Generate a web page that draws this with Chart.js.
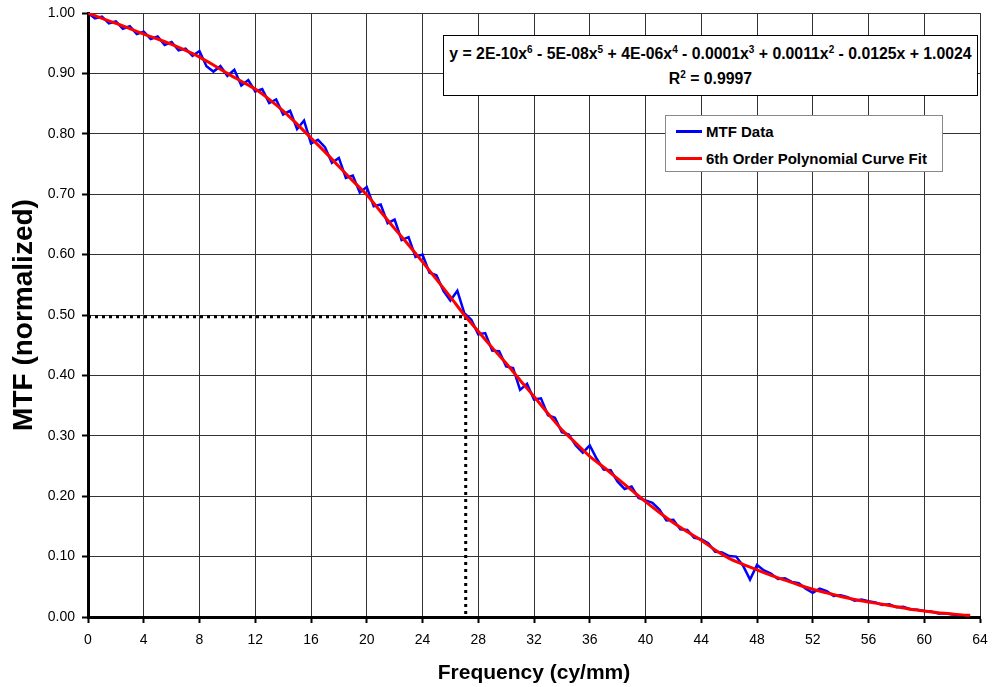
<!DOCTYPE html>
<html>
<head>
<meta charset="utf-8">
<title>MTF</title>
<script src="https://cdn.jsdelivr.net/npm/chart.js@4.4.1/dist/chart.umd.min.js"></script>
<style>
    html, body { margin: 0; padding: 0; background: #fff; }
    #wrap { position: relative; width: 992px; height: 687px; font-family: "Liberation Sans", Arial, sans-serif; }
    .box { position: absolute; background: #fff; box-sizing: border-box; font-weight: bold; color: #000; }
    #eqBox { left: 443px; top: 35px; width: 535px; height: 61px; border: 1px solid #000; text-align: center; font-size: 15.8px; }
    #eqBox div { line-height: 25px; white-space: nowrap; }
    #eqBox div:first-child { margin-top: 5px; }
    #eqBox sup { font-size: 10px; vertical-align: 6px; line-height: 0; }
    #legendBox { left: 665px; top: 115px; width: 278px; height: 57px; border: 1px solid #888; padding: 2px 0 0 10px; font-size: 15px; }
    .leg { height: 27px; display: flex; align-items: center; white-space: nowrap; }
    .leg span.swatch { display: inline-block; width: 26px; height: 3px; margin-right: 4px; }
</style>
</head>
<body>
<div id="wrap">
    <canvas id="mtfChart" width="992" height="687"></canvas>
    <div id="eqBox" class="box">
        <div>y = 2E-10x<sup>6</sup> - 5E-08x<sup>5</sup> + 4E-06x<sup>4</sup> - 0.0001x<sup>3</sup> + 0.0011x<sup>2</sup> - 0.0125x + 1.0024</div>
        <div>R<sup>2</sup> = 0.9997</div>
    </div>
    <div id="legendBox" class="box"></div>
</div>
<script>
// measured MTF (blue), sampled every 0.5 cy/mm
const mtfFreq = [
    0, 0.5, 1, 1.5, 2, 2.5, 3, 3.5, 4, 4.5, 5, 5.5, 6, 6.5, 7, 7.5, 8, 8.5, 9, 9.5,
    10, 10.5, 11, 11.5, 12, 12.5, 13, 13.5, 14, 14.5, 15, 15.5, 16, 16.5, 17, 17.5, 18, 18.5, 19, 19.5,
    20, 20.5, 21, 21.5, 22, 22.5, 23, 23.5, 24, 24.5, 25, 25.5, 26, 26.5, 27, 27.5, 28, 28.5, 29, 29.5,
    30, 30.5, 31, 31.5, 32, 32.5, 33, 33.5, 34, 34.5, 35, 35.5, 36, 36.5, 37, 37.5, 38, 38.5, 39, 39.5,
    40, 40.5, 41, 41.5, 42, 42.5, 43, 43.5, 44, 44.5, 45, 45.5, 46, 46.5, 47, 47.5, 48, 48.5, 49, 49.5,
    50, 50.5, 51, 51.5, 52, 52.5, 53, 53.5, 54, 54.5, 55, 55.5, 56, 56.5, 57, 57.5, 58, 58.5, 59, 59.5,
    60, 60.5, 61, 61.5, 62, 62.5
]
const mtfValues = [
    1.000, 0.991, 0.994, 0.983, 0.986, 0.974, 0.978, 0.965, 0.969, 0.957, 0.961, 0.947, 0.952, 0.938, 0.941, 0.929, 0.937, 0.912, 0.903, 0.912,
    0.896, 0.906, 0.880, 0.889, 0.870, 0.874, 0.851, 0.857, 0.832, 0.838, 0.808, 0.822, 0.784, 0.790, 0.778, 0.752, 0.760, 0.727, 0.731, 0.703,
    0.712, 0.680, 0.683, 0.652, 0.658, 0.624, 0.629, 0.596, 0.600, 0.570, 0.566, 0.540, 0.524, 0.540, 0.503, 0.492, 0.468, 0.470, 0.441, 0.440,
    0.415, 0.412, 0.376, 0.386, 0.360, 0.362, 0.334, 0.330, 0.306, 0.302, 0.284, 0.272, 0.284, 0.262, 0.244, 0.243, 0.224, 0.212, 0.216, 0.197,
    0.193, 0.189, 0.178, 0.160, 0.161, 0.145, 0.144, 0.131, 0.129, 0.122, 0.108, 0.107, 0.101, 0.100, 0.085, 0.062, 0.086, 0.077, 0.072, 0.063,
    0.064, 0.058, 0.056, 0.047, 0.040, 0.047, 0.043, 0.035, 0.036, 0.033, 0.027, 0.029, 0.026, 0.024, 0.020, 0.021, 0.016, 0.017, 0.013, 0.012,
    0.010, 0.009, 0.006, 0.006, 0.004, 0.003
]

// 6th order polynomial fit (red)
const fitFreq = [
    0, 1, 2, 3, 4, 5, 6, 7, 8, 9, 10, 11, 12, 13, 14, 15, 16, 17, 18, 19,
    20, 21, 22, 23, 24, 25, 26, 27, 28, 29, 30, 31, 32, 33, 34, 35, 36, 37, 38, 39,
    40, 41, 42, 43, 44, 45, 46, 47, 48, 49, 50, 51, 52, 53, 54, 55, 56, 57, 58, 59,
    60, 61, 62, 63, 63.3
]
const fitValues = [
    1.000, 0.991, 0.983, 0.974, 0.965, 0.957, 0.948, 0.938, 0.927, 0.914, 0.900, 0.887, 0.874, 0.857, 0.838, 0.816, 0.793, 0.770, 0.746, 0.722,
    0.699, 0.671, 0.643, 0.616, 0.588, 0.559, 0.530, 0.500, 0.473, 0.446, 0.420, 0.392, 0.365, 0.337, 0.310, 0.288, 0.266, 0.248, 0.229, 0.210,
    0.191, 0.173, 0.156, 0.141, 0.127, 0.111, 0.097, 0.087, 0.078, 0.069, 0.061, 0.053, 0.046, 0.040, 0.034, 0.029, 0.025, 0.021, 0.017, 0.013,
    0.010, 0.007, 0.005, 0.003, 0.003
]

// MTF50 marker
const halfFreq = 27.1
const halfMtf = 0.497

const xTicks = [0, 4, 8, 12, 16, 20, 24, 28, 32, 36, 40, 44, 48, 52, 56, 60, 64]
const yTicks = [0, 0.1, 0.2, 0.3, 0.4, 0.5, 0.6, 0.7, 0.8, 0.9, 1.0]

function toPoints(xs, ys) {
    return xs.map((x, i) => ({ x: x, y: ys[i] }))
}

Chart.defaults.font.family = '"Liberation Sans", Arial, sans-serif'
Chart.defaults.color = '#000'

const ctx = document.getElementById('mtfChart')
const myChart = new Chart(ctx, {
    type: 'line',
    data: {
        datasets: [
            {
                label: '6th Order Polynomial Curve Fit',
                data: toPoints(fitFreq, fitValues),
                borderColor: '#ff0000',
                borderWidth: 3,
                pointRadius: 0,
                tension: 0.3,
                order: 0
            },
            {
                label: 'MTF Data',
                data: toPoints(mtfFreq, mtfValues),
                borderColor: '#0000ff',
                borderWidth: 2.5,
                pointRadius: 0,
                order: 1
            },
            {
                label: 'mtf50',
                data: [{ x: 0, y: halfMtf }, { x: halfFreq, y: halfMtf }, { x: halfFreq, y: 0 }],
                borderColor: '#000',
                borderWidth: 3,
                borderDash: [3, 4],
                pointRadius: 0,
                order: 2
            }
        ]
    },
    options: {
        responsive: false,
        animation: false,
        layout: { padding: { top: 13, right: 12, left: 0, bottom: 0 } },
        plugins: {
            legend: { display: false },
            tooltip: { enabled: false }
        },
        scales: {
            x: {
                type: 'linear',
                min: 0,
                max: 64,
                afterBuildTicks: (scale) => { scale.ticks = xTicks.map(v => ({ value: v })) },
                afterFit: (scale) => {
                    scale.height = 70
                    scale.paddingLeft = 0
                    scale.paddingRight = 0
                },
                ticks: { font: { size: 14 }, padding: 9, maxRotation: 0 },
                grid: { color: '#333', lineWidth: 1, tickColor: '#000', tickLength: 6, tickWidth: 2 },
                border: { color: '#000', width: 3 },
                title: {
                    display: true,
                    text: 'Frequency (cy/mm)',
                    font: { size: 21, weight: 'bold' },
                    padding: { top: 6, bottom: 1 }
                }
            },
            y: {
                min: 0,
                max: 1,
                afterBuildTicks: (scale) => { scale.ticks = yTicks.map(v => ({ value: v })) },
                afterFit: (scale) => {
                    scale.width = 88
                    scale.paddingTop = 0
                    scale.paddingBottom = 0
                },
                ticks: { font: { size: 14 }, padding: 7, callback: (v) => Number(v).toFixed(2) },
                grid: { color: '#333', lineWidth: 1, tickColor: '#000', tickLength: 6, tickWidth: 2 },
                border: { color: '#000', width: 3 },
                title: {
                    display: true,
                    text: 'MTF (normalized)',
                    font: { size: 28, weight: 'bold' },
                    padding: { top: 7, bottom: 0 }
                }
            }
        }
    }
})

// legend built from the dataset labels
const legendBox = document.getElementById('legendBox')
for (const ds of [myChart.data.datasets[1], myChart.data.datasets[0]]) {
    const row = document.createElement('div')
    row.className = 'leg'
    row.innerHTML = '<span class="swatch" style="background:' + ds.borderColor + '"></span>' + ds.label
    legendBox.appendChild(row)
}
</script>
</body>
</html>
